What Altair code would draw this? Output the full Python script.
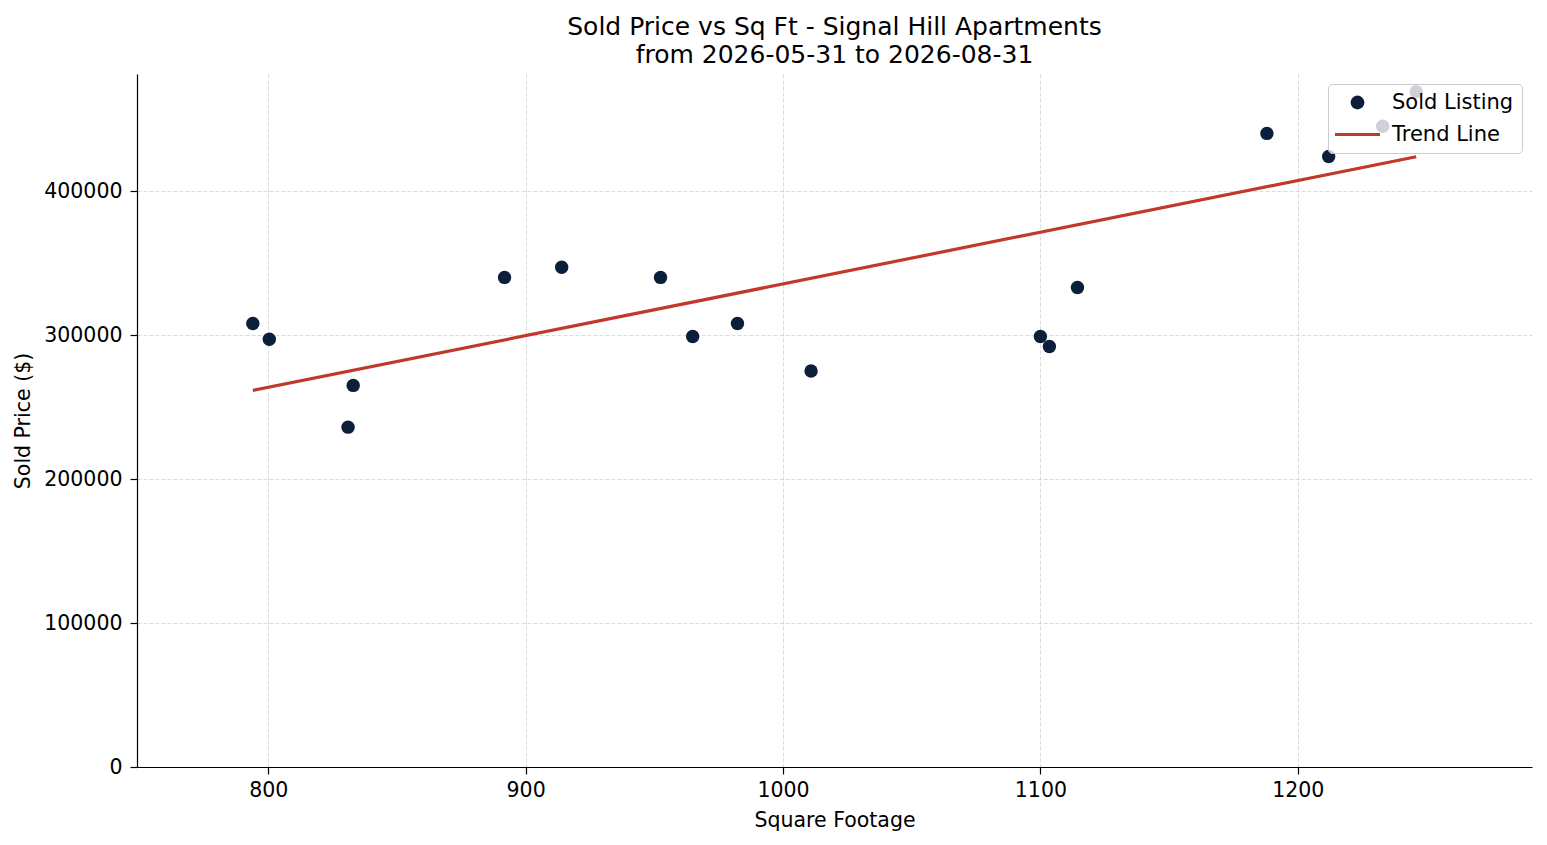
import altair as alt
import pandas as pd

# ---- data ----
sqft = [794.0, 800.4, 833.0, 831.0, 891.8, 914.0, 952.4, 964.9, 982.3, 1010.9,
        1100.0, 1103.5, 1114.4, 1188.0, 1212.0, 1233.0, 1246.0]
price = [308000, 297000, 265000, 236000, 340000, 347000, 340000, 299000, 308000, 275000,
         299000, 292000, 333000, 440000, 424000, 445000, 469000]
trend_sqft = [794.0, 1246.0]
trend_price = [261500, 423800]
series_names = ["Sold Listing", "Trend Line"]
series_colors = ["#0b1f3b", "#c0392b"]
x_ticks = [800, 900, 1000, 1100, 1200]
y_ticks = [0, 100000, 200000, 300000, 400000]
x_domain = [749, 1291]
y_domain = [0, 481250]
title_lines = ["Sold Price vs Sq Ft - Signal Hill Apartments", "from 2026-05-31 to 2026-08-31"]

df = pd.DataFrame({"sqft": sqft, "price": price, "series": series_names[0]})
df_trend = pd.DataFrame({"sqft": trend_sqft, "price": trend_price, "series": series_names[1]})

FONT = "DejaVu Sans"
FS = 20.5

color_scale = alt.Scale(domain=series_names, range=series_colors)
legend = alt.Legend(
    title=None,
    orient="top-right",
    offset=10,
    fillColor="rgba(255,255,255,0.8)",
    strokeColor="#cccccc",
    cornerRadius=4,
    padding=8,
    rowPadding=10,
    labelFont=FONT,
    labelFontSize=21,
    labelColor="#000000",
    labelOffset=24,
    symbolOffset=11,
    symbolType=alt.ExprRef(expr="datum.value == 'Trend Line' ? 'stroke' : 'circle'"),
    symbolSize=alt.ExprRef(expr="datum.value == 'Trend Line' ? 2025 : 190"),
    symbolStrokeWidth=alt.ExprRef(expr="datum.value == 'Trend Line' ? 3 : 0"),
    symbolOpacity=1,
)

x_enc = alt.X("sqft:Q", title="Square Footage",
              scale=alt.Scale(domain=x_domain, nice=False, zero=False),
              axis=alt.Axis(values=x_ticks, format="d", labelPadding=6, titlePadding=10))
y_enc = alt.Y("price:Q", title="Sold Price ($)",
              scale=alt.Scale(domain=y_domain, nice=False, zero=True),
              axis=alt.Axis(values=y_ticks, format="d", labelPadding=8, titlePadding=10))

points = alt.Chart(df).mark_circle(size=180, opacity=1).encode(
    x=x_enc,
    y=y_enc,
    color=alt.Color("series:N", scale=color_scale, legend=legend),
)

trend = alt.Chart(df_trend).mark_line(strokeWidth=3.2).encode(
    x=alt.X("sqft:Q"),
    y=alt.Y("price:Q"),
    color=alt.Color("series:N", scale=color_scale, legend=legend),
)

chart = alt.layer(points, trend).properties(
    width=1395,
    height=693,
    title=alt.TitleParams(
        text=title_lines,
        font=FONT,
        fontSize=25,
        fontWeight="normal",
        color="#000000",
        anchor="middle",
        lineHeight=28,
        offset=6,
    ),
    autosize=alt.AutoSizeParams(type="none"),
    padding={"left": 129, "top": 66, "right": 7, "bottom": 70},
).configure_view(
    stroke=None
).configure_axis(
    labelFont=FONT,
    titleFont=FONT,
    labelFontSize=FS,
    titleFontSize=FS,
    titleFontWeight="normal",
    labelColor="#000000",
    titleColor="#000000",
    domainColor="#000000",
    domainWidth=1.2,
    tickColor="#000000",
    tickWidth=1.2,
    tickSize=7,
    grid=True,
    gridColor="#cccccc",
    gridDash=[4, 2],
    gridWidth=0.7,
)

chart.save("out.html", embed_options={"renderer": "svg", "actions": False})
